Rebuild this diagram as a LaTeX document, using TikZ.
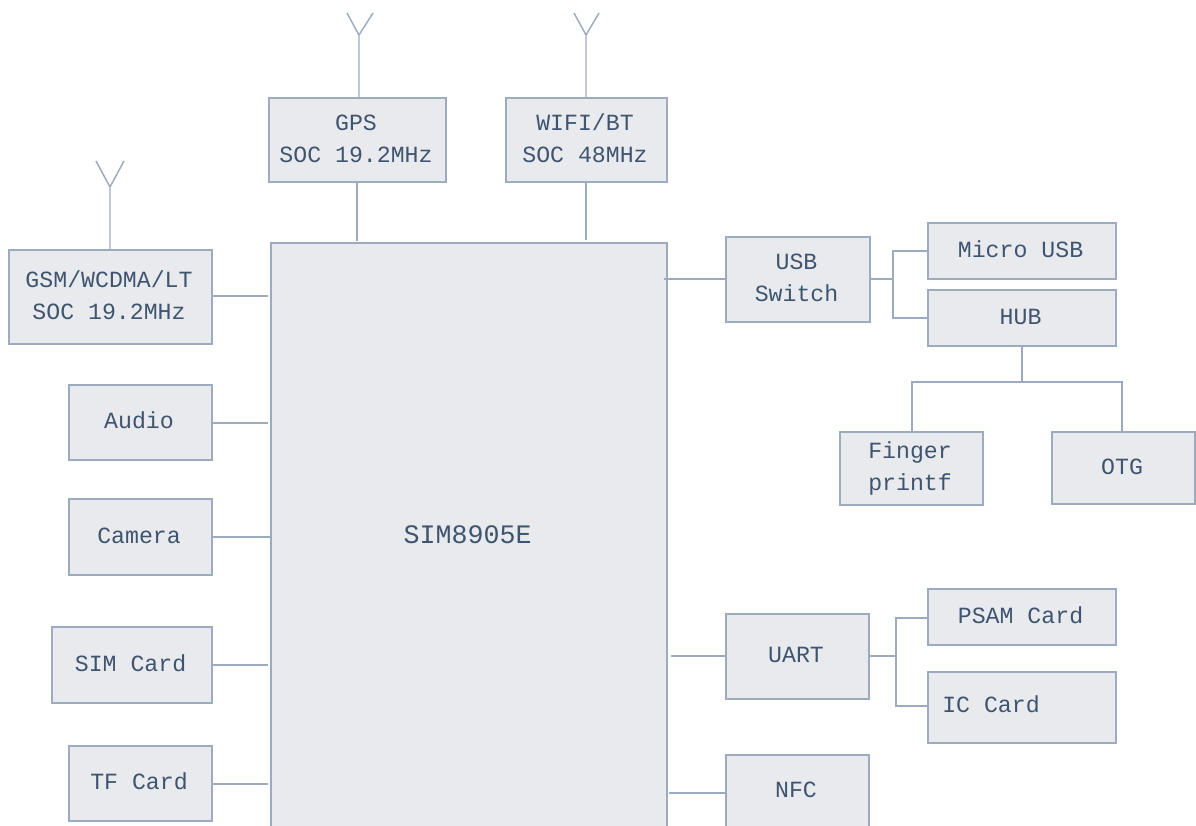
\documentclass[tikz,border=0pt]{standalone}
\usepackage{fontspec}
\setmainfont{Liberation Mono}
\definecolor{edgec}{HTML}{9CABBF}
\definecolor{fillc}{HTML}{E8EAEE}
\definecolor{textc}{HTML}{3F556F}
\tikzset{
  blk/.style={draw=edgec,fill=fillc,line width=1.1pt,inner sep=0pt,text=textc,
    font=\fontsize{17.4}{24}\selectfont},
  wire/.style={draw=edgec,line width=1.1pt,line join=miter},
}
\newcommand{\bx}[6]{%
  \pgfmathsetmacro\bcx{(#2+#4)/2}\pgfmathsetmacro\bcy{(#3+#5)/2}%
  \pgfmathsetmacro\bw{(#4-#2)*0.75}\pgfmathsetmacro\bh{(#5-#3)*0.75}%
  \node[blk,minimum width=\bw pt,minimum height=\bh pt] (#1) at (\bcx,\bcy)
    {\hspace*{-2.2pt}\raisebox{1.1pt}{\begin{tabular}{@{}c@{}}#6\end{tabular}}};}
\begin{document}
\begin{tikzpicture}[x=0.75pt,y=-0.75pt]
\useasboundingbox (0,0) rectangle (1196,825);
\clip (0,0) rectangle (1196,825);
\bx{main}{271}{243}{667}{831}{\fontsize{20}{24}\selectfont SIM8905E}
\bx{gps}{269}{98}{446}{182}{GPS\\SOC 19.2MHz}
\bx{wifi}{506}{98}{667}{182}{WIFI/BT\\SOC 48MHz}
\bx{gsm}{9}{250}{212}{344}{GSM/WCDMA/LT\\SOC 19.2MHz}
\bx{audio}{69}{385}{212}{460}{Audio}
\bx{camera}{69}{499}{212}{575}{Camera}
\bx{sim}{52}{627}{212}{703}{SIM Card}
\bx{tf}{69}{746}{212}{821}{TF Card}
\bx{usb}{726}{237}{870}{322}{USB\\Switch}
\bx{micro}{928}{223}{1116}{279}{Micro USB}
\bx{hub}{928}{290}{1116}{346}{HUB}
\bx{finger}{840}{432}{983}{505}{Finger\\printf}
\bx{otg}{1052}{432}{1195}{504}{OTG}
\bx{uart}{726}{614}{869}{699}{UART}
\bx{psam}{928}{589}{1116}{645}{PSAM Card}
\bx{ic}{928}{672}{1116}{743}{}
\node[text=textc,font=\fontsize{17.4}{24}\selectfont,anchor=west,inner sep=0pt] (ictext) at (942,704) {IC Card};
\bx{nfc}{726}{755}{869}{827}{NFC}
% antennas
\coordinate (ga) at (359,35); \coordinate (gal) at (347,13); \coordinate (gar) at (373,13);
\coordinate (wa) at (586,35); \coordinate (wal) at (574,13); \coordinate (war) at (599,13);
\coordinate (sa) at (110,187); \coordinate (sal) at (96,161); \coordinate (sar) at (124,161);
\draw[wire] (ga |- gps.north) -- (ga) (gal) -- (ga) -- (gar);
\draw[wire] (wa |- wifi.north) -- (wa) (wal) -- (wa) -- (war);
\draw[wire] (sa |- gsm.north) -- (sa) (sal) -- (sa) -- (sar);
% free ends at the main block
\coordinate (mg) at (357,241); \coordinate (mw) at (586,240);
\coordinate (m1) at (268,296); \coordinate (m2) at (268,423); \coordinate (m3) at (271,537);
\coordinate (m4) at (268,665); \coordinate (m5) at (268,784);
\coordinate (m6) at (664,279); \coordinate (m7) at (671,656); \coordinate (m8) at (669,793);
\draw[wire] (mg |- gps.south) -- (mg);
\draw[wire] (mw |- wifi.south) -- (mw);
\draw[wire] (m1 -| gsm.east) -- (m1);
\draw[wire] (m2 -| audio.east) -- (m2);
\draw[wire] (m3 -| camera.east) -- (m3);
\draw[wire] (m4 -| sim.east) -- (m4);
\draw[wire] (m5 -| tf.east) -- (m5);
\draw[wire] (m6) -- (m6 -| usb.west);
\draw[wire] (m7) -- (m7 -| uart.west);
\draw[wire] (m8) -- (m8 -| nfc.west);
% USB tree
\coordinate (ub) at (893,279);
\coordinate (um) at (893,251); \coordinate (uh) at (893,318);
\draw[wire] (ub -| usb.east) -- (ub);
\draw[wire] (um -| micro.west) -- (um) -- (uh) -- (uh -| hub.west);
% HUB tree
\coordinate (hb) at (1022,382); \coordinate (hl) at (912,382); \coordinate (hr) at (1122,382);
\draw[wire] (hb |- hub.south) -- (hb);
\draw[wire] (hl |- finger.north) -- (hl) -- (hr) -- (hr |- otg.north);
% UART tree
\coordinate (ab) at (896,656);
\coordinate (ap) at (896,618); \coordinate (ai) at (896,706);
\draw[wire] (ab -| uart.east) -- (ab);
\draw[wire] (ap -| psam.west) -- (ap) -- (ai) -- (ai -| ic.west);
\end{tikzpicture}
\end{document}
